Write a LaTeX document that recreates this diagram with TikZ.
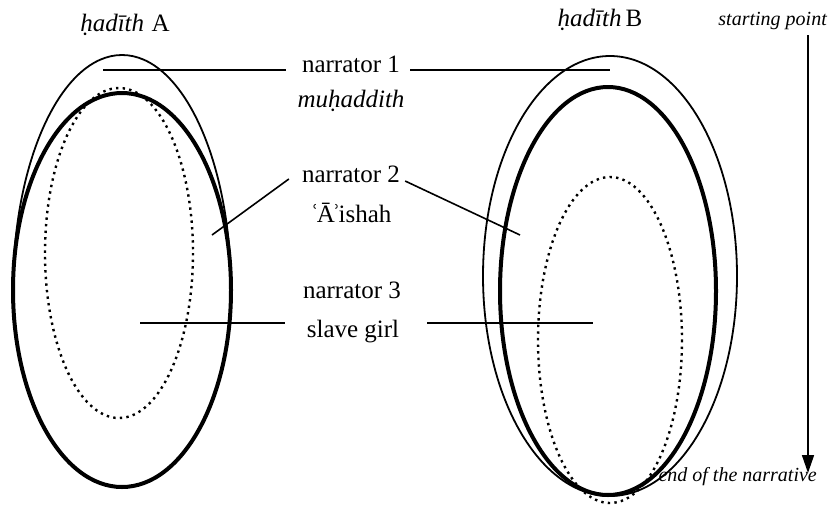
\documentclass[tikz,border=0pt]{standalone}
\usepackage{fontspec}
\setmainfont{Liberation Serif}
\usetikzlibrary{arrows.meta}

\begin{document}
\begin{tikzpicture}[
    x=1pt, y=-1pt,
    narr/.style={inner sep=0pt, anchor=base, font=\fontsize{25}{30}\selectfont},
    note/.style={inner sep=0pt, anchor=base east, font=\fontsize{20}{24}\selectfont\itshape},
    outer/.style={line width=1.8pt},
    inner/.style={line width=4pt},
    core/.style={line width=2.4pt, dash pattern=on 2.4pt off 4.2pt},
    link/.style={line width=1.6pt}
]
    \useasboundingbox (0,0) rectangle (829,504);

    % hadith A
    \draw[core] (119,253) ellipse [x radius=74, y radius=165];
    \draw[outer] (13,290) arc [start angle=180, end angle=360, x radius=109, y radius=235];
    \draw[inner] (122,290) ellipse [x radius=109, y radius=197];

    % hadith B
    \draw[core] (610,340) ellipse [x radius=72, y radius=163];
    \draw[outer] (610,276) ellipse [x radius=127, y radius=220];
    \draw[inner] (608,291) ellipse [x radius=108, y radius=204];

    % Headings
    \node[narr] (hadA) at (125,31) {\textit{ḥadīth}\hspace{.3em}A};
    \node[narr] (hadB) at (600,26) {\textit{ḥadīth}\,B};

    % Narrators
    \node[narr] (nar1) at (351,72) {narrator 1};
    \node[narr] (role1) at (351,107) {\itshape muḥaddith};
    \node[narr] (nar2) at (351,182) {narrator 2};
    \node[narr] (role2) at (351,222) {ʿ\kern-2ptĀ\kern-2.5ptʾ\kern-2ptishah};
    \node[narr] (nar3) at (352,298) {narrator 3};
    \node[narr] (role3) at (353,337) {slave girl};

    % Ends of the lines inside the ellipses
    \coordinate (a1) at (103,70);
    \coordinate (b1) at (610,70);
    \coordinate (a2) at (212,235);
    \coordinate (b2) at (520,235);
    \coordinate (a3) at (140,323);
    \coordinate (b3) at (593,323);

    \draw[link, shorten >=16pt] (a1) -- (a1 -| nar1.west);
    \draw[link, shorten <=10pt] (b1 -| nar1.east) -- (b1);
    \draw[link] (a2) -- ([xshift=-13pt,yshift=3pt]nar2.base west);
    \draw[link] ([xshift=5pt,yshift=1pt]nar2.base east) -- (b2);
    \draw[link, shorten >=22pt] (a3) -- (a3 -| role3.west);
    \draw[link, shorten <=28pt] (role3.east |- b3) -- (b3);

    % Time axis
    \node[note] (start) at (827,25) {starting point};
    \node[note] (finish) at (817,481) {end of the narrative};
    \coordinate (top) at (808,35);
    \coordinate (tip) at (808,473);
    \draw[link, -{Triangle[width=12pt, length=18pt]}] (top) -- (tip);
\end{tikzpicture}
\end{document}
